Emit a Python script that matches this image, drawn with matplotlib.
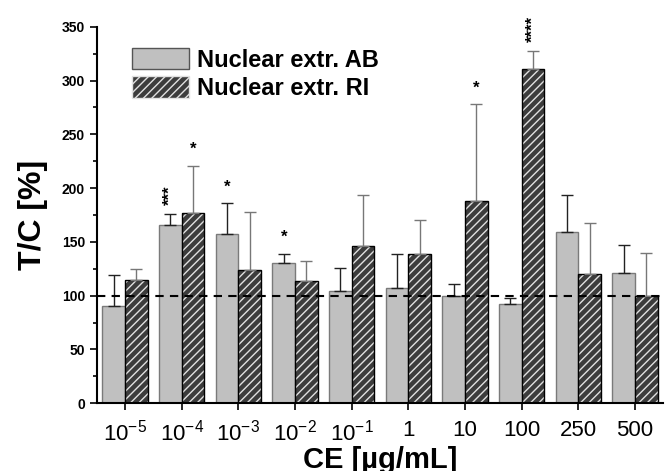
import numpy as np
import matplotlib
matplotlib.use('Agg')
import matplotlib.pyplot as plt
from matplotlib.patches import Patch

plt.rcParams['font.family'] = ['Liberation Sans', 'DejaVu Sans']
plt.rcParams['mathtext.default'] = 'regular'

# data
labels = ['$10^{-5}$', '$10^{-4}$', '$10^{-3}$', '$10^{-2}$', '$10^{-1}$', '1', '10', '100', '250', '500']
ab_vals = [90, 166, 157, 130, 104, 107, 100, 92, 159, 121]
ab_err = [29, 10, 29, 9, 22, 32, 11, 6, 35, 26]
ri_vals = [115, 177, 124, 114, 146, 139, 188, 311, 120, 100]
ri_err = [10, 44, 54, 18, 48, 31, 90, 17, 48, 40]
ab_stars = {1: '***', 2: '*', 3: '*'}
ri_stars = {1: '*', 6: '*', 7: '****'}

x = np.arange(len(labels))
w = 0.4

fig = plt.figure(figsize=(6.72, 4.71), dpi=100)
ax = fig.add_axes([0.144, 0.144, 0.843, 0.799])

# grey bars
ax.bar(x - w / 2, ab_vals, w, color='#c0c0c0', edgecolor='#7a7a7a', linewidth=1, zorder=2)
ax.errorbar(x - w / 2, ab_vals, yerr=[np.zeros(len(x)), ab_err], fmt='none',
            ecolor='#222222', elinewidth=1, capsize=4, capthick=1, zorder=3)

# hatched bars: fill + hatch drawn first, black outline on top
ax.bar(x + w / 2, ri_vals, w, color='#3c3c3c', edgecolor='#e0e0e0', hatch='////',
       linewidth=0, zorder=2)
ax.bar(x + w / 2, ri_vals, w, fill=False, edgecolor='black', linewidth=1, zorder=2)
ax.errorbar(x + w / 2, ri_vals, yerr=[np.zeros(len(x)), ri_err], fmt='none',
            ecolor='#777777', elinewidth=1, capsize=4, capthick=1, zorder=3)

# significance stars
for i, s in ab_stars.items():
    rot = 90 if len(s) > 1 else 0
    ax.text(x[i] - w / 2, ab_vals[i] + ab_err[i] + 8, s, ha='center', va='bottom',
            fontsize=12, fontweight='bold', rotation=rot, clip_on=False)
for i, s in ri_stars.items():
    rot = 90 if len(s) > 1 else 0
    ax.text(x[i] + w / 2, ri_vals[i] + ri_err[i] + 8, s, ha='center', va='bottom',
            fontsize=12, fontweight='bold', rotation=rot, clip_on=False)

# reference line at 100 %
ax.axhline(100, color='black', linestyle='--', linewidth=1.5, dashes=(4, 3), zorder=4)

ax.set_xlim(-0.5, 9.5)
ax.set_ylim(0, 350)
ax.set_xticks(x)
ax.set_xticklabels(labels, fontsize=16)
ax.set_yticks(np.arange(0, 351, 50))
ax.set_yticks(np.arange(25, 350, 50), minor=True)
for t in ax.get_yticklabels():
    t.set_fontweight('bold')
    t.set_fontsize(10)
ax.tick_params(axis='both', direction='out', width=1.2, length=5)
ax.tick_params(axis='x', pad=7)
ax.tick_params(axis='y', which='minor', length=3, width=1.2)
ax.spines['top'].set_visible(False)
ax.spines['right'].set_visible(False)
ax.spines['left'].set_linewidth(1.5)
ax.spines['bottom'].set_linewidth(1.5)

ax.set_ylabel('T/C [%]', fontsize=23, fontweight='bold', labelpad=10)
ax.set_xlabel('CE [µg/mL]', fontsize=21, fontweight='bold', labelpad=0)

# legend: grey patch + hatched patch
h1 = Patch(facecolor='#c0c0c0', edgecolor='#555555', label='Nuclear extr. AB')
h2 = Patch(facecolor='#3c3c3c', edgecolor='#e0e0e0', hatch='////', label='Nuclear extr. RI')
leg = ax.legend(handles=[h1, h2], loc='upper left', bbox_to_anchor=(0.025, 1.0),
                frameon=False, prop={'size': 17, 'weight': 'bold'},
                handlelength=2.4, handleheight=1.0, handletextpad=0.35, labelspacing=0.2)

fig.savefig('out.png', dpi=100)
